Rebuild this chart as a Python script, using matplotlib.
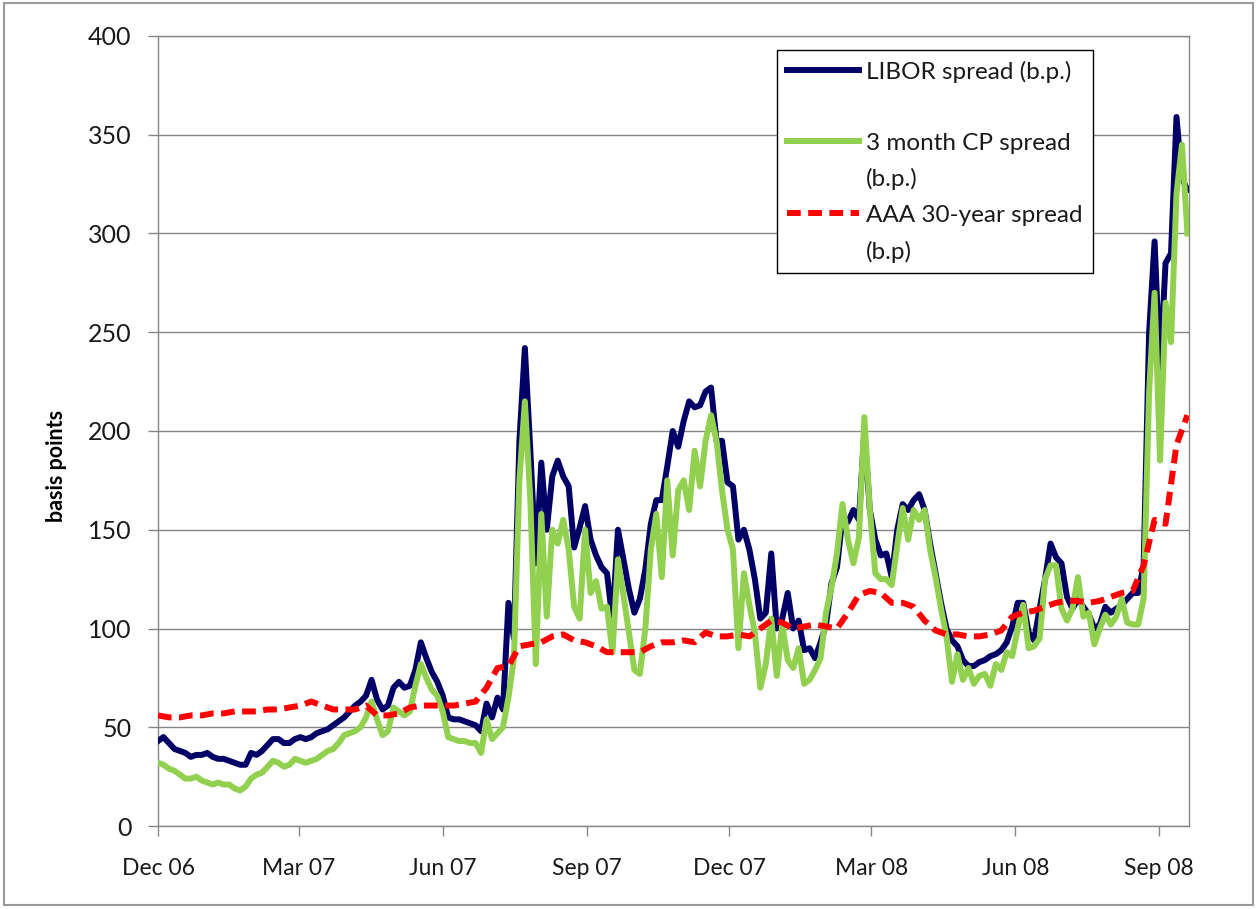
import matplotlib
matplotlib.use('Agg')
import matplotlib.pyplot as plt
from matplotlib.lines import Line2D
from matplotlib.patches import Rectangle
import pandas as pd

plt.rcParams['font.family'] = ['Lato', 'DejaVu Sans']

# ---------------- data (basis points) ----------------
# LIBOR and CP spreads sampled twice a week from 1 Dec 2006 to 19 Sep 2008
libor_start = '2006-12-01'
libor_step = '84h'
libor = [
    43, 45, 42, 39, 38, 37, 35, 36, 36, 37,
    35, 34, 34, 33, 32, 31, 31, 37, 36, 38,
    41, 44, 44, 42, 42, 44, 45, 44, 45, 47,
    48, 49, 51, 53, 55, 58, 61, 63, 66, 74,
    64, 59, 61, 70, 73, 70, 71, 79, 93, 85,
    78, 73, 66, 55, 54, 54, 53, 52, 51, 48,
    62, 55, 65, 59, 113, 95, 195, 242, 190, 133,
    184, 150, 177, 185, 177, 172, 141, 151, 162, 145,
    137, 131, 128, 104, 150, 135, 120, 108, 115, 130,
    153, 165, 165, 182, 200, 192, 205, 215, 212, 213,
    220, 222, 195, 195, 174, 172, 145, 150, 140, 125,
    105, 108, 138, 100, 105, 118, 100, 104, 89, 90,
    85, 93, 102, 123, 131, 156, 154, 160, 155, 200,
    160, 145, 137, 138, 126, 150, 163, 160, 165, 168,
    160, 143, 128, 113, 100, 94, 91, 84, 81, 81,
    83, 84, 86, 87, 89, 93, 101, 113, 113, 98,
    94, 110, 125, 143, 136, 133, 116, 110, 115, 111,
    107, 100, 102, 111, 108, 110, 112, 115, 118, 118,
    132, 250, 296, 230, 285, 290, 359, 328, 322,
]
cp = [
    32, 31, 29, 28, 26, 24, 24, 25, 23, 22,
    21, 22, 21, 21, 19, 18, 20, 24, 26, 27,
    30, 33, 32, 30, 31, 34, 33, 32, 33, 34,
    36, 38, 39, 42, 46, 47, 48, 50, 55, 63,
    54, 46, 48, 60, 58, 56, 58, 71, 82, 75,
    69, 66, 58, 45, 44, 43, 43, 42, 42, 37,
    54, 44, 47, 50, 65, 85, 175, 215, 165, 82,
    158, 106, 150, 143, 155, 140, 111, 105, 150, 118,
    124, 110, 111, 88, 135, 117, 98, 79, 77, 100,
    140, 158, 126, 175, 137, 170, 175, 160, 190, 172,
    195, 208, 195, 170, 150, 140, 90, 128, 112, 98,
    70, 82, 105, 76, 102, 84, 80, 90, 72, 74,
    79, 85, 108, 121, 138, 163, 145, 133, 146, 207,
    160, 128, 125, 125, 122, 142, 161, 145, 160, 155,
    160, 140, 126, 110, 96, 73, 87, 74, 80, 72,
    76, 77, 71, 82, 79, 88, 86, 100, 112, 90,
    91, 95, 125, 132, 132, 110, 104, 110, 126, 106,
    108, 92, 100, 107, 102, 106, 115, 103, 102, 102,
    115, 220, 270, 185, 265, 245, 320, 345, 300,
]
# AAA 30-year spread, weekly
aaa_step = '7D'
aaa = [
    56, 55, 55, 56, 56, 57, 57, 58, 58, 58,
    59, 59, 60, 61, 63, 61, 59, 59, 59, 61,
    56, 56, 57, 60, 61, 61, 61, 61, 62, 63,
    70, 80, 81, 91, 92, 93, 96, 97, 94, 93,
    91, 88, 88, 88, 88, 91, 93, 93, 94, 93,
    98, 96, 96, 97, 96, 100, 104, 103, 100, 101,
    102, 101, 100, 108, 117, 119, 118, 113, 113, 111,
    104, 99, 97, 97, 96, 96, 97, 99, 106, 108,
    109, 111, 113, 114, 114, 113, 114, 116, 118, 119,
    132, 155, 153, 193, 208,
]

series_labels = ['LIBOR spread (b.p.)', '3 month CP spread', '(b.p.)',
                 'AAA 30-year spread', '(b.p)']
tick_dates = ['2006-12-01', '2007-03-01', '2007-06-01', '2007-09-01',
              '2007-12-01', '2008-03-01', '2008-06-01', '2008-09-01']
tick_labels = ['Dec 06', 'Mar 07', 'Jun 07', 'Sep 07',
               'Dec 07', 'Mar 08', 'Jun 08', 'Sep 08']
y_ticks = [0, 50, 100, 150, 200, 250, 300, 350, 400]

dates_2w = pd.date_range(libor_start, periods=len(libor), freq=libor_step)
dates_w = pd.date_range(libor_start, periods=len(aaa), freq=aaa_step)

NAVY = '#000066'
GREEN = '#92D050'
RED = '#FF0000'
GRID = '#868686'
LW = 4.3
DASH = (0, (2.3, 1.25))

W, H = 1257, 909
fig = plt.figure(figsize=(W / 100, H / 100), dpi=100)
ax = fig.add_axes([158 / W, (H - 826) / H, (1189 - 158) / W, (826 - 36) / H])

ax.plot(dates_2w, libor, color=NAVY, lw=LW, solid_joinstyle='round', zorder=3)
ax.plot(dates_2w, cp, color=GREEN, lw=LW, solid_joinstyle='round', zorder=4)
ax.plot(dates_w, aaa, color=RED, lw=LW, linestyle=DASH, zorder=5)

ax.set_ylim(0, 400)
ax.set_yticks(y_ticks)
ax.set_xlim(pd.Timestamp('2006-12-01'), pd.Timestamp('2008-09-20'))
ax.set_xticks(pd.to_datetime(tick_dates))
ax.set_xticklabels(tick_labels)
ax.yaxis.grid(True, color=GRID, lw=1)
ax.set_axisbelow(True)
for s in ax.spines.values():
    s.set_color(GRID)
    s.set_linewidth(1)
ax.tick_params(axis='both', direction='out', color=GRID, length=7, width=1,
               labelcolor='#1a1a1a')
ax.tick_params(axis='y', pad=12, labelsize=18)
ax.tick_params(axis='x', pad=16, labelsize=16.5)
ax.set_ylabel('basis points', fontsize=15.5, fontweight='bold')
ax.yaxis.set_label_coords(-0.088, 0.456)

handles = [Line2D([], [], color=NAVY, lw=LW),
           Line2D([], [], color='none'),
           Line2D([], [], color=GREEN, lw=LW),
           Line2D([], [], color='none'),
           Line2D([], [], color=RED, lw=LW, linestyle=DASH),
           Line2D([], [], color='none')]
labels = [series_labels[0], ' ', series_labels[1], series_labels[2],
          series_labels[3], series_labels[4]]
leg = ax.legend(handles, labels, loc='upper left', bbox_to_anchor=(0.600, 0.982),
                borderaxespad=0, frameon=True, fancybox=False, edgecolor='black',
                framealpha=1, handlelength=2.95, handletextpad=0.3,
                labelspacing=0.6, borderpad=0.42, fontsize=17.5)
leg.get_frame().set_linewidth(1.0)
for t in leg.get_texts():
    t.set_color('#1a1a1a')

fig.patches.append(Rectangle((0.003, 0.004), 0.994, 0.993, transform=fig.transFigure,
                             fill=False, edgecolor='#9a9a9a', lw=1.5))

fig.savefig('out.png', dpi=100)
